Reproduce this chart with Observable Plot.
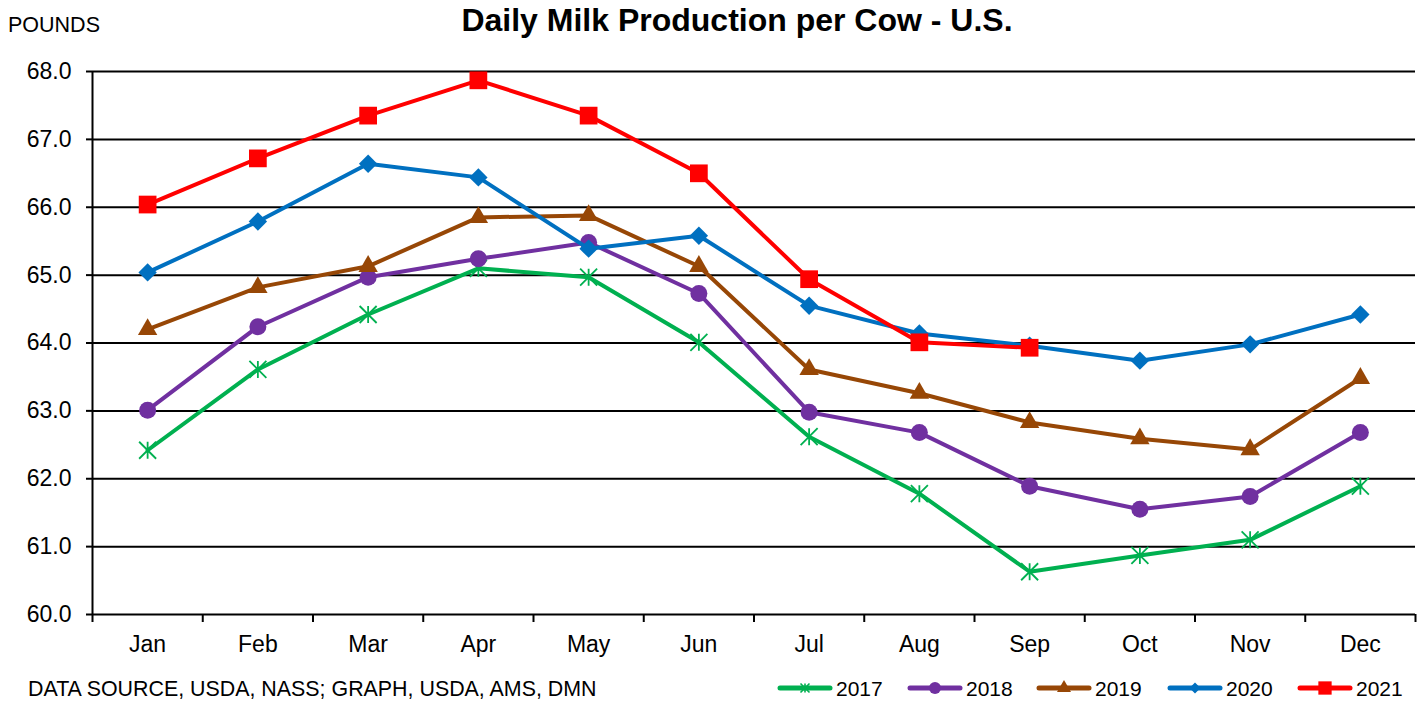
<!DOCTYPE html>
<html>
<head>
<meta charset="utf-8">
<script src="https://cdn.jsdelivr.net/npm/d3@7"></script>
<script src="https://cdn.jsdelivr.net/npm/@observablehq/plot@0.6"></script>
<style>
  body { margin: 0; background: #fff; }
  #wrap { position: relative; width: 1428px; height: 704px; font-family: Arial, "Liberation Sans", sans-serif; color: #000; overflow: hidden; }
  #wrap svg { position: absolute; left: 0; top: 0; }
  .lbl { position: absolute; white-space: nowrap; line-height: 1; }
  #title { left: 737px; top: 4px; transform: translateX(-50%); font-size: 32px; font-weight: bold; }
  #unit { left: 8px; top: 15px; font-size: 21.5px; }
  #source { left: 28px; top: 679px; font-size: 21.4px; }
</style>
</head>
<body>
<div id="wrap">
  <div class="lbl" id="title">Daily Milk Production per Cow - U.S.</div>
  <div class="lbl" id="unit">POUNDS</div>
  <div class="lbl" id="source">DATA SOURCE, USDA, NASS; GRAPH, USDA, AMS, DMN</div>
</div>
<script>
// Monthly average milk per cow (pounds per day), by year
const months = ["Jan", "Feb", "Mar", "Apr", "May", "Jun", "Jul", "Aug", "Sep", "Oct", "Nov", "Dec"];
const years = ["2017", "2018", "2019", "2020", "2021"];
const v2017 = [62.42, 63.61, 64.42, 65.10, 64.97, 64.01, 62.62, 61.78, 60.63, 60.87, 61.10, 61.89];
const v2018 = [63.01, 64.24, 64.97, 65.24, 65.48, 64.73, 62.98, 62.68, 61.89, 61.55, 61.74, 62.68];
const v2019 = [64.20, 64.82, 65.13, 65.85, 65.88, 65.13, 63.61, 63.26, 62.83, 62.59, 62.43, 63.48];
const v2020 = [65.04, 65.79, 66.64, 66.44, 65.39, 65.58, 64.55, 64.14, 63.96, 63.74, 63.98, 64.42];
const v2021 = [66.04, 66.72, 67.35, 67.87, 67.35, 66.50, 64.94, 64.01, 63.93];
const yTicks = [60, 61, 62, 63, 64, 65, 66, 67, 68];

// Star marker: a vertical bar crossed by an X
const star = {
  draw(context, size) {
    const r = Math.sqrt(size / Math.PI);
    context.moveTo(0, -r); context.lineTo(0, r);
    context.moveTo(-r, -r); context.lineTo(r, r);
    context.moveTo(-r, r); context.lineTo(r, -r);
  }
};

// Series styling
const seriesValues = [v2017, v2018, v2019, v2020, v2021];
const colors = ["#00B050", "#7030A0", "#974706", "#0070C0", "#FF0000"];
const symbols = [star, "circle", "triangle", "diamond2", "square"];
const d3Symbols = [star, d3.symbolCircle, d3.symbolTriangle, d3.symbolDiamond2, d3.symbolSquare];
const radii = [8.5, 8.5, 7.2, 8.3, 10];
const legendRadii = [4.5, 6, 5.2, 5, 7.5];

const monthIdx = months.map((_, i) => i + 1);
const bounds = d3.range(0, 13).map(i => i + 0.5);

const seriesMarks = years.flatMap((yr, i) => {
  const rows = seriesValues[i].map((v, j) => ({year: yr, month: j + 1, value: v}));
  const isStroke = i === 0;
  return [
    Plot.line(rows, {x: "month", y: "value", stroke: colors[i], strokeWidth: 4, strokeLinejoin: "round", strokeLinecap: "round"}),
    Plot.dot(rows, {
      x: "month", y: "value", symbol: symbols[i], r: radii[i],
      fill: isStroke ? "none" : colors[i],
      stroke: colors[i], strokeWidth: isStroke ? 1.8 : 0
    })
  ];
});

const chart = Plot.plot({
  width: 1428,
  height: 704,
  marginTop: 71,
  marginBottom: 90,
  marginLeft: 92,
  marginRight: 13,
  style: {fontFamily: "Arial, 'Liberation Sans', sans-serif", fontSize: "23px", background: "transparent", color: "#000"},
  x: {type: "linear", domain: [0.5, 12.5]},
  y: {domain: [60, 68]},
  marks: [
    Plot.ruleY(yTicks, {stroke: "#000", strokeWidth: 2}),
    Plot.ruleX([0.5], {stroke: "#000", strokeWidth: 2}),
    Plot.axisY({ticks: yTicks, tickSize: 6, tickPadding: 15, tickFormat: d => d.toFixed(1), strokeWidth: 2, label: null, fontSize: 23}),
    Plot.axisX({ticks: bounds, tickSize: 8, tickFormat: () => "", strokeWidth: 2, label: null}),
    Plot.axisX({ticks: monthIdx, tickSize: 0, tickPadding: 21, tickFormat: i => months[i - 1], label: null, fontSize: 23}),
    ...seriesMarks
  ]
});
document.getElementById("wrap").prepend(chart);

// Legend: line swatch with marker, then the year
const wrap = document.getElementById("wrap");
const legend = d3.select(wrap).append("svg")
  .attr("width", 1428).attr("height", 704);
const legX = [778, 908, 1037, 1168, 1298];
const legY = 688;
years.forEach((yr, i) => {
  const g = legend.append("g").attr("transform", `translate(${legX[i]},${legY})`);
  g.append("line").attr("x1", 2).attr("x2", 52).attr("y1", 0).attr("y2", 0)
    .attr("stroke", colors[i]).attr("stroke-width", 5).attr("stroke-linecap", "round");
  const r = legendRadii[i];
  const isStroke = i === 0;
  g.append("path").attr("transform", "translate(27,0)")
    .attr("d", d3.symbol(d3Symbols[i], r * r * Math.PI)())
    .attr("fill", isStroke ? "none" : colors[i])
    .attr("stroke", colors[i]).attr("stroke-width", isStroke ? 1.6 : 0);
  g.append("text").attr("x", 58).attr("y", 0).attr("dy", "0.36em")
    .attr("font-family", "Arial, 'Liberation Sans', sans-serif").attr("font-size", 21)
    .attr("fill", "#000").text(yr);
});
</script>
</body>
</html>
